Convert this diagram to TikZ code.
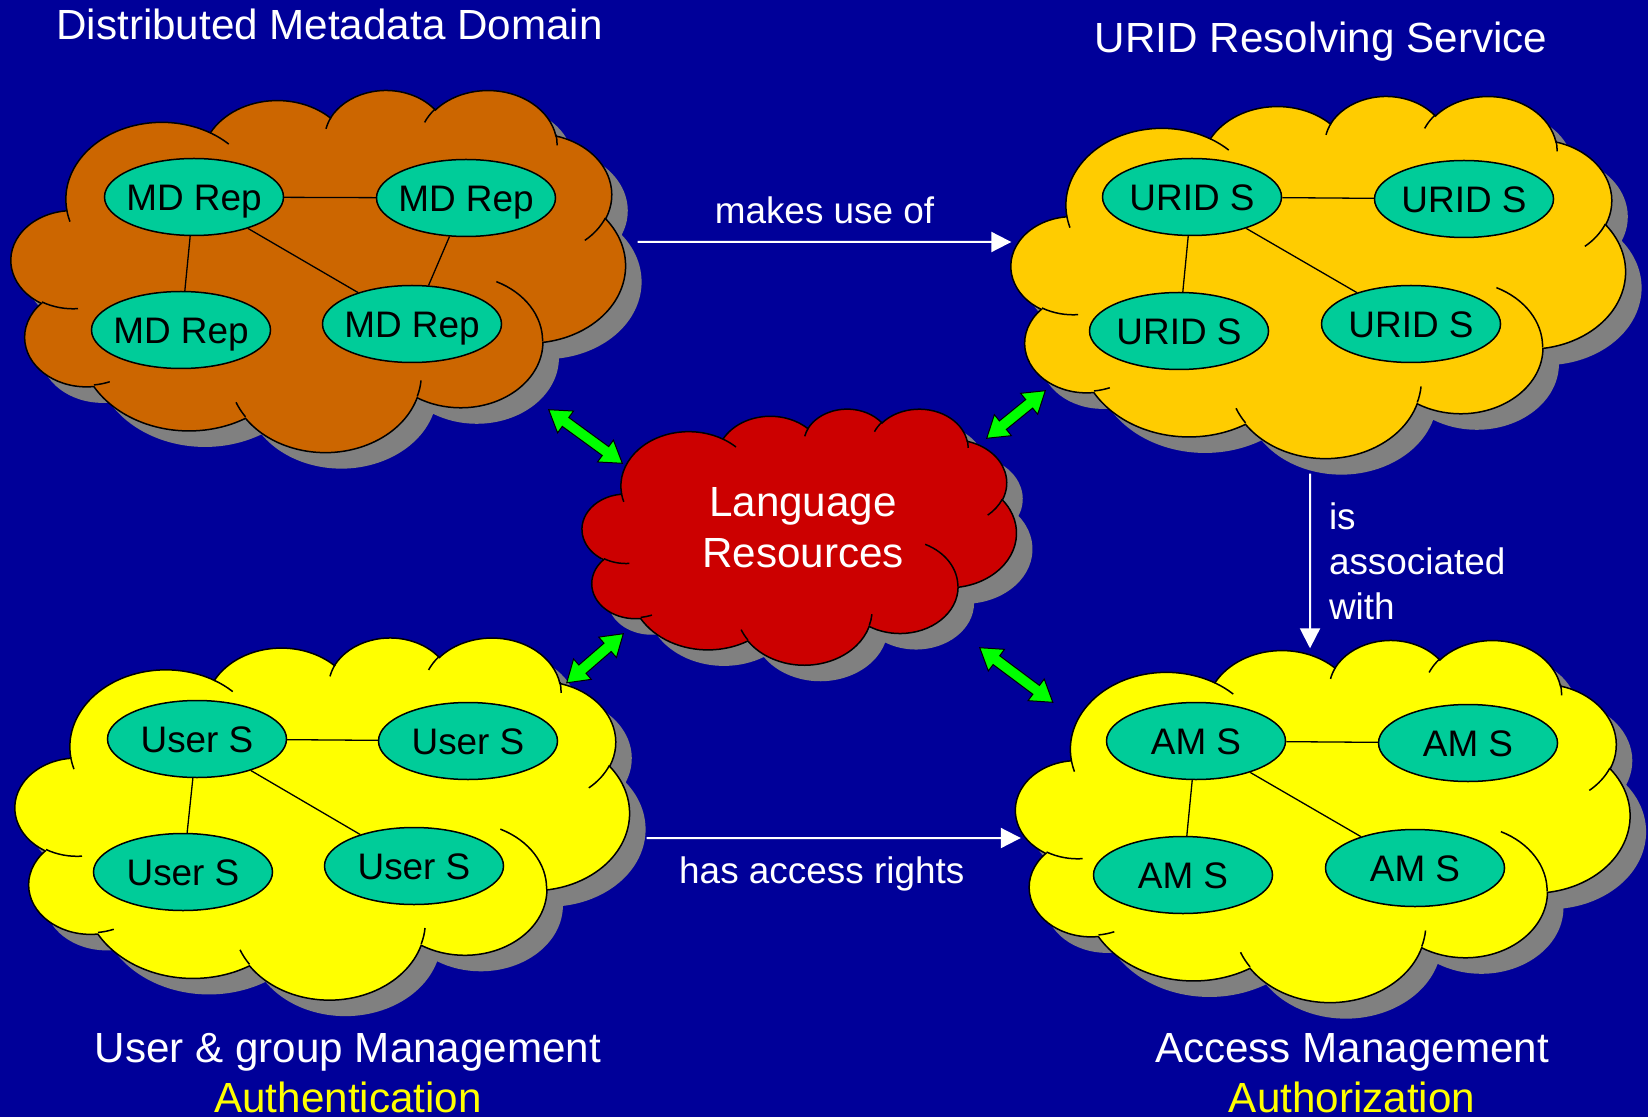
\documentclass[tikz,border=0pt]{standalone}
\usepackage{fontspec}
\setmainfont{Liberation Sans}
\usetikzlibrary{shapes.geometric,shapes.arrows,arrows.meta,calc}

\definecolor{slidebg}{HTML}{000099}
\definecolor{mdbrown}{HTML}{CC6600}
\definecolor{uridgold}{HTML}{FFCC00}
\definecolor{lrred}{HTML}{CC0000}
\definecolor{cloudyellow}{HTML}{FFFF00}
\definecolor{srvteal}{HTML}{00CC99}
\definecolor{linkgreen}{HTML}{00FF00}
\definecolor{shadegray}{HTML}{808080}

% office cloud outline, grid of 43.2 (thousands), visual angles -> arc angles
\def\cloudk{1}
\pgfmathdeclarefunction{ooang}{3}{%
  \begingroup
    \pgfmathparse{atan2((#2)*\cloudk*sin(#1),(#3)*cos(#1))-(#1)}%
    \pgfmathparse{(#1)+\pgfmathresult-360*round(\pgfmathresult/360)}%
    \pgfmathsmuggle\pgfmathresult
  \endgroup}
\newcommand\ooarc[4]{arc[x radius=#1/0.432, y radius=#2/0.432,
  start angle={ooang(#3,#1,#2)}, end angle={ooang(#3+#4,#1,#2)}]}
\newcommand\ooat[2]{(#1/0.432,#2/0.432)}
\newcommand\cloudpath{\ooat{3.900}{14.370}
  \ooarc{6.753}{9.190}{-190.487}{123.781}
  \ooarc{5.333}{7.267}{-144.102}{89.945}
  \ooarc{4.365}{5.945}{-145.808}{99.723}
  \ooarc{4.857}{6.595}{-130.986}{117.242}
  \ooarc{5.333}{7.273}{-78.709}{109.027}
  \ooarc{6.775}{9.220}{-46.267}{130.269}
  \ooarc{5.785}{7.867}{0.625}{114.033}
  \ooarc{6.752}{9.215}{22.452}{115.173}
  \ooarc{7.720}{10.543}{66.243}{75.711}
  \ooarc{4.360}{5.918}{-274.942}{146.736}
  \ooarc{4.345}{5.945}{-246.829}{152.519}
  -- cycle}
\newcommand\cloudlines{%
  \ooat{4.693}{26.177} \ooarc{4.345}{5.945}{86.742}{26.430}
  \ooat{6.928}{34.899} \ooarc{4.360}{5.918}{73.610}{11.447}
  \ooat{16.478}{39.090} \ooarc{6.752}{9.215}{137.624}{14.081}
  \ooat{28.827}{34.751} \ooarc{6.752}{9.215}{6.453}{15.998}
  \ooat{34.129}{22.954} \ooarc{5.785}{7.867}{-70.292}{70.917}
  \ooat{41.798}{15.354} \ooarc{5.333}{7.273}{30.318}{27.752}
  \ooat{38.324}{5.426} \ooarc{4.857}{6.595}{-13.744}{14.859}
  \ooat{29.078}{3.952} \ooarc{4.857}{6.595}{-149.181}{18.195}
  \ooat{22.141}{4.720} \ooarc{4.365}{5.945}{-163.494}{17.686}
  \ooat{14.000}{5.192} \ooarc{6.753}{9.190}{-66.707}{12.319}
  \ooat{4.127}{15.789} \ooarc{6.753}{9.190}{157.654}{11.858}}

\newcommand\drawcloud[4]{% frame node, fill, xscale, yscale
  \begin{scope}[shift={(#1.north west)}, xshift=1.6mm, yshift=-1.6mm, xscale=#3, yscale=#4]
    \fill[shadegray] \cloudpath;
  \end{scope}
  \begin{scope}[shift={(#1.north west)}, xscale=#3, yscale=#4]
    \filldraw[cloudline, fill=#2] \cloudpath;
    \draw[cloudline] \cloudlines;
  \end{scope}}

\newcommand\fatlink[2]{%
  \path let \p1=(#1), \p2=(#2), \n1={veclen(\x2-\x1,\y2-\y1)} in
    (\p1) -- (\p2) node[midway, sloped, greenlink, minimum height=\n1] {};}

\begin{document}
\begin{tikzpicture}[x=0.1mm, y=-0.1mm,
    cloudbox/.style={inner sep=0pt},
    cloudline/.style={draw=black, line width=0.15mm},
    srv/.style={ellipse, draw=black, line width=0.15mm, fill=srvteal,
      minimum width=17.9mm, minimum height=7.7mm, inner ysep=0pt, inner xsep=-0.6mm,
      text height=2.65mm, text depth=0pt, font=\fontsize{10.5}{12}\selectfont},
    link/.style={draw=black, line width=0.13mm},
    rel/.style={draw=white, line width=0.2mm, -{Triangle[length=2mm,width=2mm]}},
    greenlink/.style={double arrow, draw=black, line width=0.1mm, fill=linkgreen,
      inner sep=0pt, text height=1mm, text depth=0pt,
      double arrow head extend=0.8mm, double arrow tip angle=66},
    ttl/.style={text=white, inner sep=0pt, font=\fontsize{12}{14.5}\selectfont},
    lbl/.style={text=white, inner sep=0pt, font=\fontsize{10.5}{12.8}\selectfont}]

  \useasboundingbox (0,0) rectangle (1648,1117);
  \fill[slidebg] (0,0) rectangle (1648,1117);

  % cloud frames
  \node[cloudbox, minimum width=61.4mm, minimum height=36.2mm] (md) at (319,271) {};
  \node[cloudbox, minimum width=61.4mm, minimum height=36.2mm] (urid) at (1319,277) {};
  \node[cloudbox, minimum width=61.4mm, minimum height=36.2mm] (user) at (323,818.5) {};
  \node[cloudbox, minimum width=61.4mm, minimum height=36.2mm] (am) at (1323.5,821) {};
  \node[cloudbox, minimum width=43.4mm, minimum height=25.6mm] (lr) at (800,537) {};

  \drawcloud{md}{mdbrown}{6.14}{3.62}
  \drawcloud{urid}{uridgold}{6.14}{3.62}
  \drawcloud{user}{cloudyellow}{6.14}{3.62}
  \drawcloud{am}{cloudyellow}{6.14}{3.62}
  \drawcloud{lr}{lrred}{4.34}{2.56}

  % metadata repositories
  \node[srv] (md1) at (194,197) {MD Rep};
  \node[srv] (md2) at (466,198) {MD Rep};
  \node[srv] (md3) at (181,330) {MD Rep};
  \node[srv] (md4) at (412,324) {MD Rep};
  \draw[link] (md1) -- (md2) (md1) -- (md3) (md1) -- (md4) (md2) -- (md4);

  % resolving servers
  \node[srv] (urid1) at (1192,197) {URID S};
  \node[srv] (urid2) at (1464,199) {URID S};
  \node[srv] (urid3) at (1179,331) {URID S};
  \node[srv] (urid4) at (1411,324) {URID S};
  \draw[link] (urid1) -- (urid2) (urid1) -- (urid3) (urid1) -- (urid4);

  % user servers
  \node[srv] (user1) at (197,739) {User S};
  \node[srv] (user2) at (468,741) {User S};
  \node[srv] (user3) at (183,872) {User S};
  \node[srv] (user4) at (414,866) {User S};
  \draw[link] (user1) -- (user2) (user1) -- (user3) (user1) -- (user4);

  % access management servers
  \node[srv] (am1) at (1196,741) {AM S};
  \node[srv] (am2) at (1468,743) {AM S};
  \node[srv] (am3) at (1183,875) {AM S};
  \node[srv] (am4) at (1415,868) {AM S};
  \draw[link] (am1) -- (am2) (am1) -- (am3) (am1) -- (am4);

  \node[ttl, align=center] (lrlabel) at (803,528) {Language\\Resources};

  \node[ttl, anchor=base] (mdtitle) at (329.5,40) {Distributed Metadata Domain};
  \node[ttl, anchor=base] (uridtitle) at (1321,53) {URID Resolving Service};
  \node[ttl, anchor=base] (usertitle) at (348,1062) {User \& group Management};
  \node[ttl, anchor=base, text=cloudyellow] (usersub) at (348,1112) {Authentication};
  \node[ttl, anchor=base] (amtitle) at (1352,1062) {Access Management};
  \node[ttl, anchor=base, text=cloudyellow] (amsub) at (1352,1112) {Authorization};

  \draw[rel] ([xshift=1.1mm,yshift=2.9mm]md.east) --
    node[lbl, above=1.7mm] (uselabel) {makes use of} ([yshift=3.5mm]urid.west);
  \draw[rel] ([xshift=1.6mm,yshift=-1.95mm]user.east) --
    node[lbl, below=1.75mm, xshift=-1.2mm] (rightslabel) {has access rights} ([xshift=0.5mm,yshift=-1.7mm]am.west);
  \draw[rel] ([xshift=-0.9mm,yshift=-1.5mm]urid.south) --
    node[lbl, right=1.8mm, align=left] (assoclabel) {is\\associated\\with} ([xshift=-1.35mm,yshift=-0.9mm]am.north);

  \fatlink{[xshift=-7.8mm,yshift=4.3mm]md.south east}{[xshift=4mm,yshift=-5.5mm]lr.north west}
  \fatlink{[xshift=3.4mm,yshift=6.8mm]urid.south west}{[xshift=-3.1mm,yshift=-3mm]lr.north east}
  \fatlink{[xshift=4.1mm,yshift=3.2mm]lr.south west}{[xshift=-6.4mm,yshift=-4.6mm]user.north east}
  \fatlink{[xshift=-3.8mm,yshift=1.8mm]lr.south east}{[xshift=3.7mm,yshift=-6.3mm]am.north west}
\end{tikzpicture}
\end{document}
